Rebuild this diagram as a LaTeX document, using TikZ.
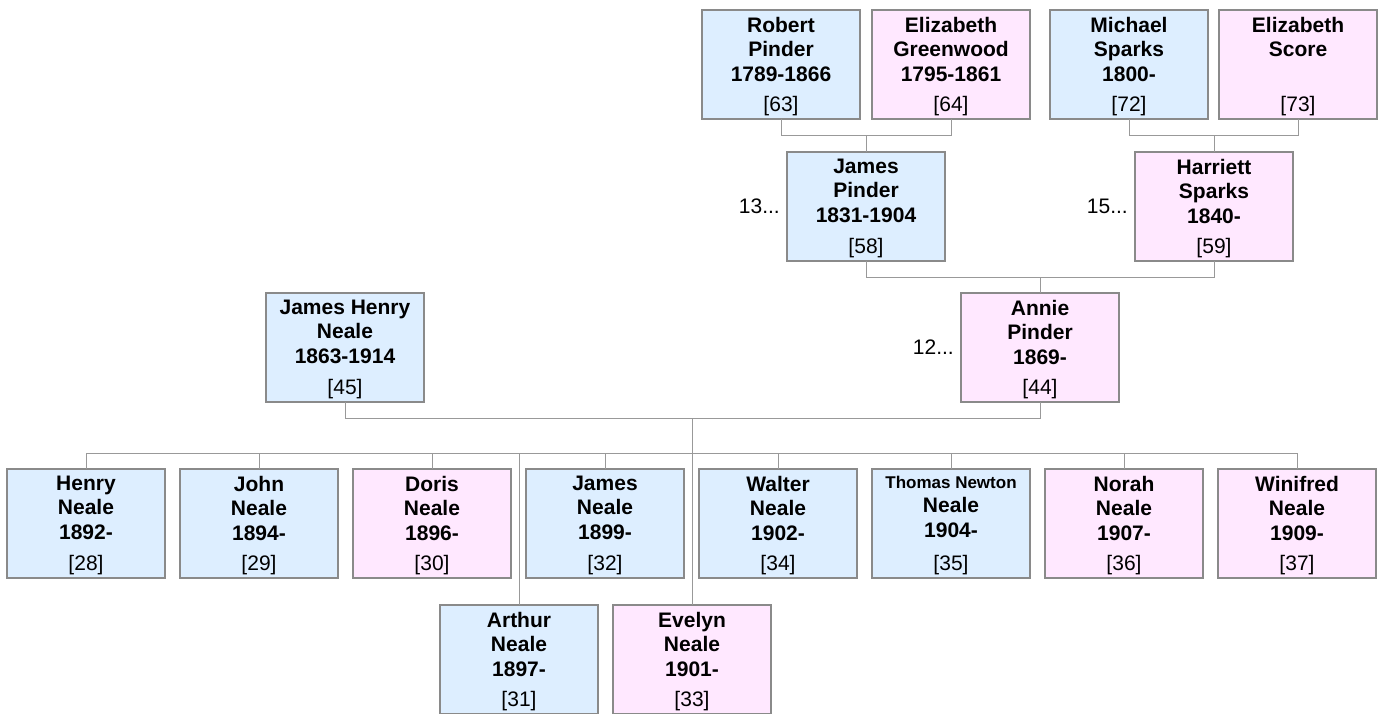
\documentclass[tikz,border=0pt]{standalone}
\usepackage{fontspec}
\setmainfont{Liberation Sans}
\usetikzlibrary{calc, positioning}
\definecolor{boyfill}{HTML}{DDEEFF}
\definecolor{girlfill}{HTML}{FFE8FF}
\definecolor{edge}{HTML}{8A8A8A}
\definecolor{twig}{HTML}{999999}

% one card: names in bold at the top, record number at the foot
\newcommand{\card}[2]{\parbox[t][109pt][t]{158pt}{\centering\vspace*{7pt}%
  \bfseries #1\par\vfill\mdseries #2\par\vspace*{3.5pt}}}

\begin{document}
\begin{tikzpicture}[x=1pt,y=-1pt,node distance=15pt,
        person/.style={draw=edge,line width=1.2pt,inner sep=0pt,outer sep=0pt,minimum width=158pt,minimum height=109pt,
            font=\fontsize{21pt}{24.5pt}\selectfont},
        boy/.style={person,fill=boyfill}, girl/.style={person,fill=girlfill},
        link/.style={draw=twig,line width=1pt},
        more/.style={inner sep=0pt,font=\fontsize{21pt}{24pt}\selectfont}]
        \useasboundingbox (0,0) rectangle (1382,713);
        % grandparents
        \node[boy, anchor=north west] (robert) at (702,10) {\card{Robert\\Pinder\\1789-1866}{[63]}};
        \node[girl, anchor=north west] (elizabethg) at (872,10) {\card{Elizabeth\\Greenwood\\1795-1861}{[64]}};
        \node[boy, anchor=north west] (michael) at (1050,10) {\card{Michael\\Sparks\\1800-}{[72]}};
        \node[girl, anchor=north west] (elizabeths) at (1219,10) {\card{Elizabeth\\Score}{[73]}};
        % parents of Annie
        \node[boy, anchor=north west] (jamesp) at (787,152) {\card{James\\Pinder\\1831-1904}{[58]}};
        \node[girl, anchor=north west] (harriett) at (1135,152) {\card{Harriett\\Sparks\\1840-}{[59]}};
        \node[more] (jamespmore) [left=7pt of jamesp] {13...};
        \node[more] (harriettmore) [left=7pt of harriett] {15...};
        % the couple
        \node[boy, anchor=north west] (jhneale) at (266,293) {\card{James Henry\\Neale\\1863-1914}{[45]}};
        \node[girl, anchor=north west] (annie) at (961,293) {\card{Annie\\Pinder\\1869-}{[44]}};
        \node[more] (anniemore) [left=7pt of annie] {12...};
        % children
        \node[boy, anchor=north west] (henry) at (7,469) {\card{Henry\\Neale\\1892-}{[28]}};
        \node[boy] (john) [right=of henry] {\card{John\\Neale\\1894-}{[29]}};
        \node[girl] (doris) [right=of john] {\card{Doris\\Neale\\1896-}{[30]}};
        \node[boy] (jamesn) [right=of doris] {\card{James\\Neale\\1899-}{[32]}};
        \node[boy] (walter) [right=of jamesn] {\card{Walter\\Neale\\1902-}{[34]}};
        \node[boy] (thomas) [right=of walter] {\card{{\fontsize{17pt}{19pt}\selectfont Thomas Newton}\\Neale\\1904-}{[35]}};
        \node[girl] (norah) [right=of thomas] {\card{Norah\\Neale\\1907-}{[36]}};
        \node[girl] (winifred) [right=of norah] {\card{Winifred\\Neale\\1909-}{[37]}};
        \node[boy, anchor=north west] (arthur) at (440,605) {\card{Arthur\\Neale\\1897-}{[31]}};
        \node[girl, anchor=north west] (evelyn) at (613,605) {\card{Evelyn\\Neale\\1901-}{[33]}};

        \path[link] (robert.south) -- ++(0,16) -| (elizabethg.south)
            (jamesp.north) -- ++(0,-17)
            (michael.south) -- ++(0,16) -| (elizabeths.south)
            (harriett.north) -- ++(0,-17)
            (jamesp.south) -- ++(0,16) -| (harriett.south)
            (annie.north) -- ++(0,-16)
            (jhneale.south) -- ++(0,16) -| (annie.south);
        \coordinate (fork) at ($(jhneale.south)!.5!(annie.south)+(0,16)$);
        \path[link] (fork) -- (fork |- evelyn.north)
            (henry.north) -- ++(0,-16) -| (winifred.north)
            (arthur.north) -- ($(arthur.north |- henry.north)+(0,-16)$);
        \foreach \kid in {john,doris,jamesn,walter,thomas,norah}
            \path[link] (\kid.north) -- ++(0,-16);
\end{tikzpicture}
\end{document}
